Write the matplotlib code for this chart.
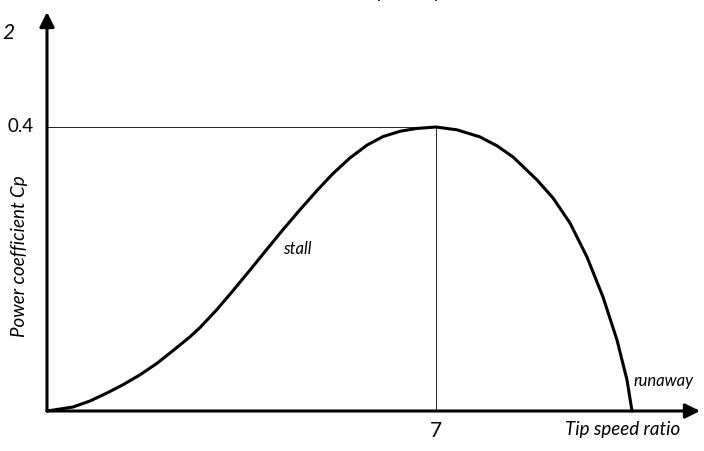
import matplotlib
matplotlib.use("Agg")
import matplotlib.pyplot as plt

# Data
tsr = [0.0, 0.468, 0.774, 1.080, 1.368, 1.674, 1.980, 2.267, 2.573, 2.753, 3.059,
       3.347, 3.653, 3.959, 4.247, 4.553, 4.859, 5.147, 5.453, 5.759, 6.046,
       6.352, 6.658, 7.0, 7.378, 7.792, 8.098, 8.386, 8.818, 9.106, 9.411, 9.717,
       10.005, 10.257, 10.437, 10.527]
cp = [0.0, 0.0056, 0.0141, 0.0254, 0.0370, 0.0510, 0.0672, 0.0850, 0.1045, 0.1175,
      0.1430, 0.1695, 0.1985, 0.2280, 0.2555, 0.2835, 0.3105, 0.3345, 0.3565,
      0.3745, 0.3865, 0.3940, 0.3980, 0.4000, 0.3960, 0.3860, 0.3735, 0.3578,
      0.3254, 0.3000, 0.2648, 0.2169, 0.1606, 0.1000, 0.0437, 0.0]
peak_tsr = 7
peak_cp = 0.4
peak_cp_label = "0.4"
peak_tsr_label = "7"
x_label = "Tip speed ratio"
y_label = "Power coefficient Cp"
annot_stall = "stall"
annot_runaway = "runaway"
corner_label = "2"

W, H = 704, 451
fig = plt.figure(figsize=(W / 100, H / 100), dpi=100)
ax = fig.add_axes([0, 0, 1, 1])
ax.set_axis_off()

# pixel mapping: x=0 at px 47, x=7 at px 436 ; y=0 at py 411, y=0.4 at py 127
sx = (436 - 47) / 7.0
sy = 0.4 / (411 - 127)
ax.set_xlim(-47 / sx, (W - 47) / sx)
ax.set_ylim(-(H - 411) * sy, 411 * sy)

font = dict(family=["Lato", "DejaVu Sans"], weight="normal", color="black")

# guide lines
ax.plot([0, peak_tsr], [peak_cp, peak_cp], color="#222222", lw=0.7)
ax.plot([peak_tsr, peak_tsr], [0, peak_cp], color="#222222", lw=0.7)

# curve
ax.plot(tsr, cp, color="black", lw=2.2, solid_capstyle="round", solid_joinstyle="round")

# axes arrows
ax.annotate("", xy=((700 - 47) / sx, 0), xytext=(0, 0),
            arrowprops=dict(arrowstyle="-|>", lw=2.2, color="black",
                            mutation_scale=22, shrinkA=0, shrinkB=0))
ax.annotate("", xy=(0, (411 - 12) * sy), xytext=(0, 0),
            arrowprops=dict(arrowstyle="-|>", lw=2.2, color="black",
                            mutation_scale=22, shrinkA=0, shrinkB=0))

# labels
ax.text(-26 / sx, peak_cp, peak_cp_label, ha="center", va="center", fontsize=13.5, **font)
ax.text(peak_tsr, -20 * sy, peak_tsr_label, ha="center", va="center", fontsize=15, **font)
ax.text((623 - 47) / sx, -18 * sy, x_label, ha="center", va="center", fontsize=13.5,
        style="italic", **font)
ax.text(-27 / sx, (411 - 256) * sy, y_label, ha="center", va="center", fontsize=13.5,
        style="italic", rotation=90, **font)
ax.text((297 - 47) / sx, (411 - 249) * sy, annot_stall, ha="center", va="center",
        fontsize=12, style="italic", **font)
ax.text((664 - 47) / sx, (411 - 381) * sy, annot_runaway, ha="center", va="center",
        fontsize=12, style="italic", **font)
ax.text(-39 / sx, (411 - 33) * sy, corner_label, ha="center", va="center",
        fontsize=15, style="italic", **font)

# cut-off title remnants at the very top
for px in (383, 440):
    fig.text(px / W, 1 + 2 / H, "p", ha="center", va="baseline", fontsize=13,
             style="italic", **font)

fig.savefig("out.png", dpi=100, facecolor="white")
